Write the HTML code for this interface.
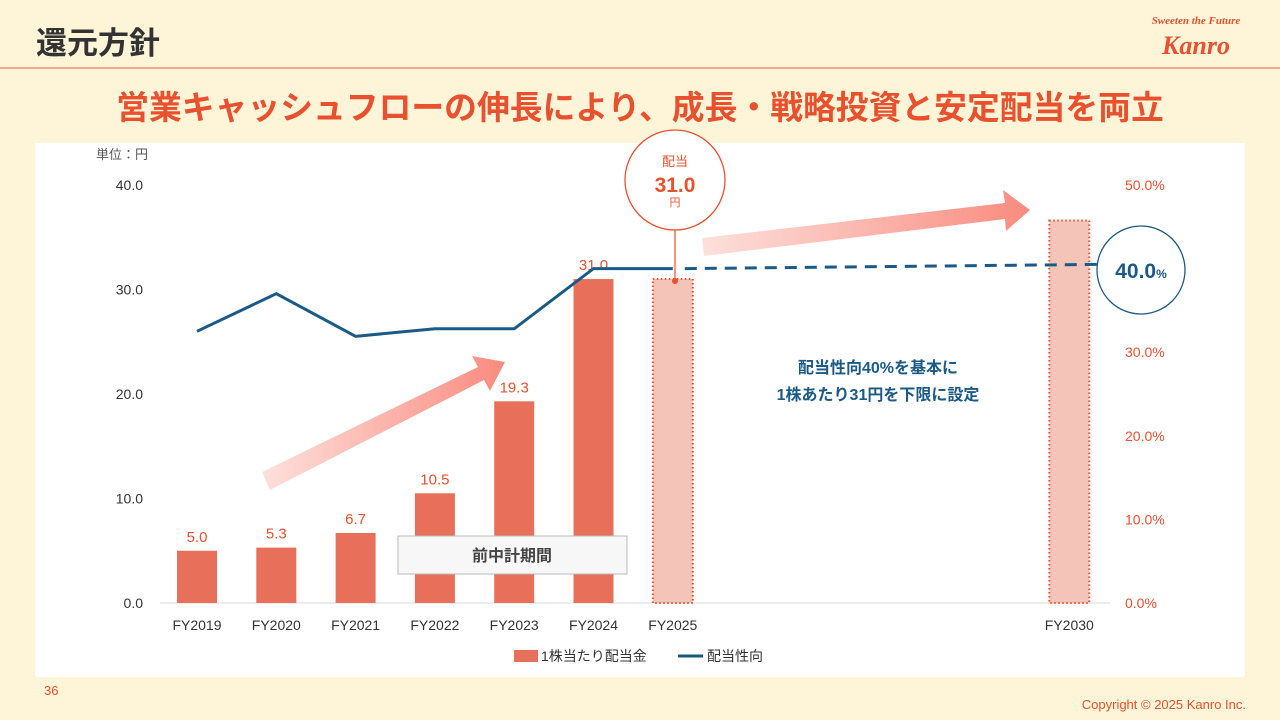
<!DOCTYPE html>
<html><head><meta charset="utf-8"><style>
html,body{margin:0;padding:0;width:1280px;height:720px;overflow:hidden;background:#fef5d8;font-family:"Liberation Sans","Noto Sans CJK JP",sans-serif;}
</style></head><body>
<svg id="s" width="1280" height="720" xmlns="http://www.w3.org/2000/svg" font-family="Liberation Sans, Noto Sans CJK JP, sans-serif">
<defs>
<linearGradient id="ga" x1="0" y1="0" x2="1" y2="0"><stop offset="0" stop-color="#fde0dc"/><stop offset="1" stop-color="#f98b7f"/></linearGradient>
</defs>
<text x="36" y="54" font-size="31" font-weight="bold" fill="#333">還元方針</text>
<text x="1196" y="24" font-size="11" font-style="italic" font-weight="bold" fill="#e8502e" text-anchor="middle" font-family="Liberation Serif, serif">Sweeten the Future</text>
<text x="1196" y="54" font-size="26" font-style="italic" font-weight="bold" fill="#e8502e" text-anchor="middle" font-family="Liberation Serif, serif">Kanro</text>
<rect x="0" y="67" width="1280" height="2" fill="#f2a98a"/>
<text x="640" y="119" font-size="32.8" font-weight="bold" fill="#e8502e" text-anchor="middle">営業キャッシュフローの伸長により、成長・戦略投資と安定配当を両立</text>
<rect x="35" y="143" width="1210" height="534" fill="#fff"/>
<text x="96" y="159" font-size="13" fill="#555">単位：円</text>
<g id="axes"></g><g id="bars"></g><g id="line"></g>
<rect x="398" y="536" width="229" height="38" fill="#f7f7f7" stroke="#bbb"/>
<text x="512" y="561" font-size="16" font-weight="bold" fill="#444" text-anchor="middle">前中計期間</text>
<polygon points="262,472 478,367 472,356 505,362 490,391 484,380 270,490" fill="url(#ga)"/>
<polygon points="702,238 1005,203 1003,190 1030,210 1006,231 1005,219 704,256" fill="url(#ga)"/>
<text x="878" y="373" font-size="16" font-weight="bold" fill="#1b5a86" text-anchor="middle">配当性向40%を基本に</text>
<text x="878" y="400" font-size="16" font-weight="bold" fill="#1b5a86" text-anchor="middle">1株あたり31円を下限に設定</text>
<line x1="675" y1="230" x2="675" y2="281" stroke="#e8502e" stroke-width="1.2"/>
<circle cx="675" cy="281" r="3" fill="#e8502e"/>
<circle cx="675" cy="180" r="50" fill="#fff" stroke="#e8502e" stroke-width="1.3"/>
<text x="675" y="166" font-size="13" fill="#e8502e" text-anchor="middle">配当</text>
<text x="675" y="192" font-size="21" font-weight="bold" fill="#e8502e" text-anchor="middle">31.0</text>
<text x="675" y="206" font-size="11" fill="#e8502e" text-anchor="middle">円</text>
<circle cx="1141" cy="270" r="44" fill="#fff" stroke="#1b5a86" stroke-width="1.3"/>
<text x="1141" y="278" font-size="21" font-weight="bold" fill="#1b5a86" text-anchor="middle">40.0<tspan font-size="12">%</tspan></text>
<rect x="514" y="650" width="24" height="12" fill="#e8705a"/>
<text x="541" y="661" font-size="14" fill="#333">1株当たり配当金</text>
<line x1="678" y1="656" x2="703" y2="656" stroke="#1b5a86" stroke-width="3"/>
<text x="707" y="661" font-size="14" fill="#333">配当性向</text>
<text x="44" y="695" font-size="13" fill="#e8502e">36</text>
<text x="1246" y="709" font-size="13" fill="#e8502e" text-anchor="end">Copyright © 2025  Kanro Inc.</text>
</svg>
<script>
const categories=["FY2019","FY2020","FY2021","FY2022","FY2023","FY2024","FY2025","","","","","FY2030"];
const dividends=[5.0,5.3,6.7,10.5,19.3,31.0,31.0,null,null,null,null,36.6];
const dividendLabels=["5.0","5.3","6.7","10.5","19.3","31.0","","","","","",""];
const payoutRatio=[32.5,37.0,31.9,32.8,32.8,40.0,40.0];
const payoutTargetEnd=40.5;
const leftTicks=[0,10,20,30,40];
const rightTicks=[0,10,20,30,40,50];
const NS="http://www.w3.org/2000/svg";
const x=i=>197+i*79.3;
const yL=v=>603-v*10.45;
const yR=v=>603-v*8.36;
function mk(p,t,a){const e=document.createElementNS(NS,t);for(const k in a)e.setAttribute(k,a[k]);document.getElementById(p).appendChild(e);return e;}
let base=mk('axes','line',{x1:160,y1:603,x2:1110,y2:603,stroke:'#d9d9d9'});


leftTicks.forEach(v=>{const t=mk('axes','text',{x:143,y:yL(v)+5,'font-size':14,fill:'#333','text-anchor':'end'});t.textContent=v.toFixed(1);

});
rightTicks.forEach(v=>{const t=mk('axes','text',{x:1125,y:yR(v)+5,'font-size':14,fill:'#e8502e'});t.textContent=v.toFixed(1)+'%';

});
categories.forEach((c,i)=>{if(!c)return;const t=mk('axes','text',{x:x(i),y:630,'font-size':14,fill:'#333','text-anchor':'middle'});t.textContent=c;

});
dividends.forEach((v,i)=>{if(v==null)return;const future=i>=6;
const r=mk('bars','rect',{x:x(i)-20,y:yL(v),width:40,height:yL(0)-yL(v),fill:future?'#f5c4b8':'#e8705a',stroke:future?'#e8502e':'none','stroke-width':future?2:0,'stroke-dasharray':future?'1.5 2.5':''});


if(dividendLabels[i]){const t=mk('bars','text',{x:x(i),y:yL(v)-9,'font-size':15,fill:'#e8502e','text-anchor':'middle'});t.textContent=dividendLabels[i];

}});
const pl=mk('line','polyline',{points:payoutRatio.map((v,i)=>x(i)+','+yR(v)).join(' '),fill:'none',stroke:'#1b5a86','stroke-width':3});


const last=payoutRatio.length-1;
const dl=mk('line','line',{x1:x(last)+12,y1:yR(payoutRatio[last]),x2:1097,y2:yR(payoutTargetEnd),stroke:'#1b5a86','stroke-width':3,'stroke-dasharray':'12 8'});


</script>
</body></html>
